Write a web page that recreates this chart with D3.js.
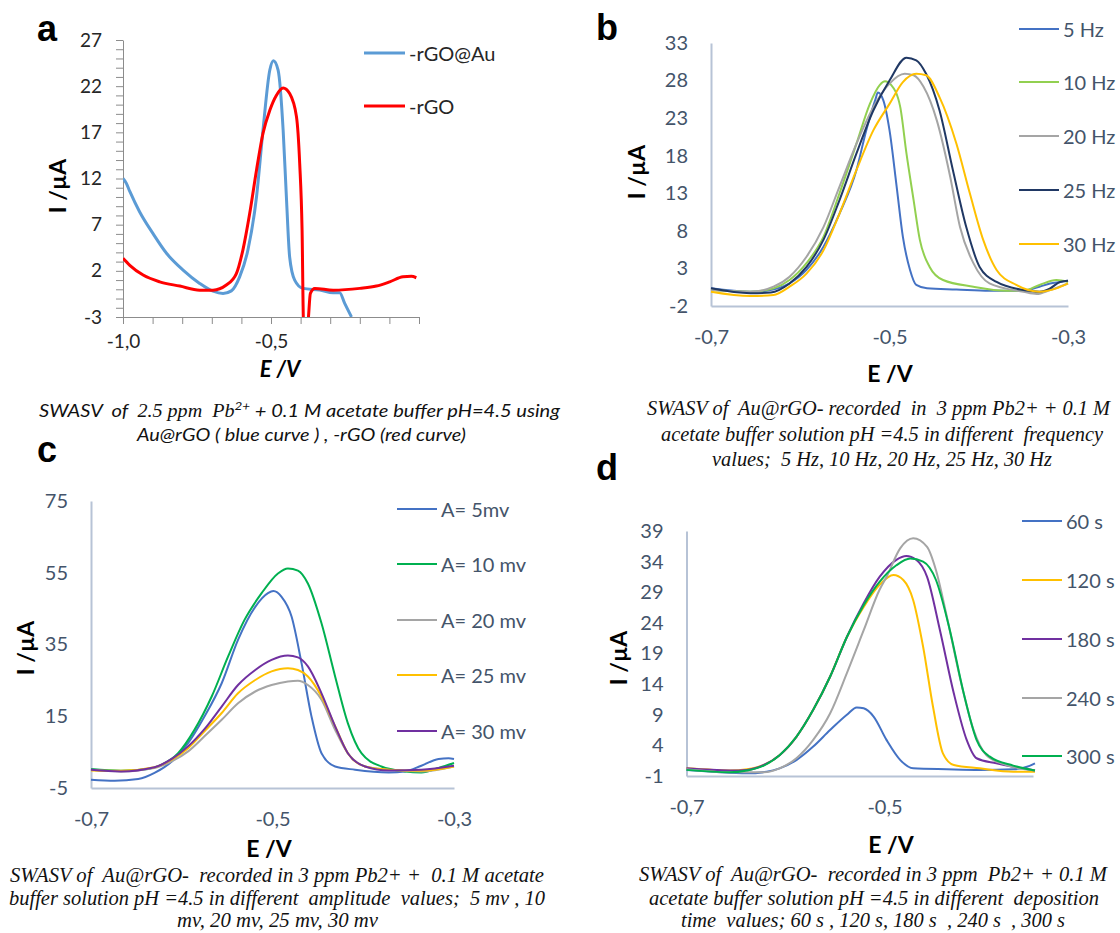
<!DOCTYPE html>
<html>
<head>
<meta charset="utf-8">
<script src="https://cdn.jsdelivr.net/npm/d3@7"></script>
<style>
  body { margin: 0; background: #fff; }
  svg { display: block; }
  .cap { white-space: pre; }
</style>
</head>
<body>
<svg id="fig" width="1120" height="933"></svg>
<script>
// ---------- data (E in V, I in µA) ----------
// panel a
var aNames = ["-rGO@Au", "-rGO"]
var aXLabels = [-1.0, -0.5]
var aYTicks = [27, 22, 17, 12, 7, 2, -3]
var aBlue = [[-1.0,12.0],[-0.989,11.5],[-0.977,10.6],[-0.944,8.4],[-0.899,6.05],[-0.853,3.9],[-0.797,2.08],[-0.741,0.64],[-0.696,-0.2],[-0.662,-0.45],[-0.634,-0.17],[-0.606,1.35],[-0.578,4.25],[-0.549,10.0],[-0.527,17.25],[-0.504,23.75],[-0.492,24.76],[-0.476,23.75],[-0.459,17.25],[-0.448,10.0],[-0.437,3.5],[-0.42,1.0],[-0.392,0.1],[-0.335,-0.09],[-0.29,-0.38],[-0.268,-0.38],[-0.251,-1.53],[-0.228,-3.0]]
var aRed = [[-1.0,3.35],[-0.977,2.6],[-0.932,1.54],[-0.876,0.81],[-0.808,0.35],[-0.741,-0.09],[-0.696,-0.09],[-0.651,0.46],[-0.617,1.7],[-0.595,4.25],[-0.572,8.2],[-0.549,12.9],[-0.527,16.9],[-0.504,19.4],[-0.482,21.0],[-0.459,21.8],[-0.437,21.2],[-0.414,18.7],[-0.403,13.6],[-0.395,6.4],[-0.39,-3.6],[-0.376,-3.6],[-0.367,-0.45],[-0.352,0.1],[-0.29,-0.09],[-0.2,0.1],[-0.144,0.35],[-0.099,0.81],[-0.054,1.35],[-0.026,1.4],[-0.009,1.25]]

// panel b
var bNames = ["5 Hz", "10 Hz", "20 Hz", "25 Hz", "30 Hz"]
var bXTicks = [-0.7, -0.5, -0.3]
var bYTicks = [-2, 3, 8, 13, 18, 23, 28, 33]
var b5 = [[-0.7,0.35],[-0.656,-0.1],[-0.638,0.04],[-0.612,1.0],[-0.593,2.8],[-0.574,5.9],[-0.556,10.3],[-0.537,16.1],[-0.526,21.4],[-0.516,25.4],[-0.513,26.4],[-0.507,25.4],[-0.5,21.4],[-0.492,13.9],[-0.485,7.2],[-0.477,2.8],[-0.47,0.8],[-0.458,0.35],[-0.425,0.2],[-0.388,0.04],[-0.35,0.04],[-0.332,0.57],[-0.32,1.0],[-0.309,1.2],[-0.3,1.37]]
var b10 = [[-0.7,0.13],[-0.656,-0.1],[-0.63,0.35],[-0.612,1.46],[-0.593,3.7],[-0.574,7.2],[-0.556,13],[-0.537,19.6],[-0.522,24.9],[-0.511,27.4],[-0.505,27.9],[-0.498,27.4],[-0.488,24.5],[-0.481,18.3],[-0.473,12.1],[-0.466,6.8],[-0.455,3.2],[-0.44,1.46],[-0.406,0.57],[-0.369,0.04],[-0.35,0.04],[-0.332,0.8],[-0.313,1.46],[-0.3,1.2]]
var b20 = [[-0.7,0.13],[-0.656,-0.1],[-0.63,0.57],[-0.612,1.9],[-0.593,4.55],[-0.574,8.5],[-0.556,13.9],[-0.537,19.6],[-0.518,24.5],[-0.5,27.6],[-0.483,28.9],[-0.473,28.7],[-0.462,27.2],[-0.447,22.7],[-0.432,15.2],[-0.421,8.5],[-0.406,3.7],[-0.388,1.0],[-0.35,-0.1],[-0.335,-0.4],[-0.32,0.13],[-0.3,1.0]]
var b25 = [[-0.7,0.35],[-0.656,-0.3],[-0.633,-0.2],[-0.612,1.0],[-0.593,3.2],[-0.574,6.8],[-0.556,12.1],[-0.537,18.3],[-0.518,24.05],[-0.5,28],[-0.481,31.05],[-0.47,30.7],[-0.459,28.9],[-0.444,24.05],[-0.429,16.1],[-0.414,8.5],[-0.399,3.2],[-0.38,1.2],[-0.35,0.13],[-0.332,-0.1],[-0.32,0.35],[-0.309,1.2],[-0.3,1.37]]
var b30 = [[-0.7,-0.1],[-0.656,-0.67],[-0.63,-0.54],[-0.612,0.57],[-0.593,2.3],[-0.574,5.4],[-0.556,10.3],[-0.537,16.1],[-0.518,21.4],[-0.5,24.9],[-0.485,27.8],[-0.47,28.9],[-0.459,28.7],[-0.444,25.8],[-0.425,19.6],[-0.41,13],[-0.395,6.8],[-0.38,2.8],[-0.358,0.8],[-0.332,-0.1],[-0.313,0.35],[-0.3,1.0]]

// panel c
var cNames = ["A= 5mv", "A= 10 mv", "A= 20 mv", "A= 25 mv", "A= 30 mv"]
var cXTicks = [-0.7, -0.5, -0.3]
var cYTicks = [-5, 15, 35, 55, 75]
var c5 = [[-0.7,-2.7],[-0.674,-3.0],[-0.648,-2.5],[-0.63,-0.8],[-0.611,2.4],[-0.593,7.5],[-0.575,14.9],[-0.556,24.2],[-0.538,36.3],[-0.519,45.5],[-0.505,49.3],[-0.499,49.9],[-0.49,48.3],[-0.479,42.8],[-0.468,29.8],[-0.457,14.9],[-0.446,4.7],[-0.431,1.0],[-0.409,0.1],[-0.372,-0.65],[-0.354,-0.37],[-0.336,1.2],[-0.317,3.1],[-0.306,3.3],[-0.3,3.1]]
var c10 = [[-0.7,0.28],[-0.667,-0.2],[-0.637,0.28],[-0.622,1.5],[-0.604,4.7],[-0.586,11.2],[-0.567,20.5],[-0.549,31.6],[-0.531,41.8],[-0.512,49.3],[-0.494,54.8],[-0.483,56.2],[-0.472,55.6],[-0.461,52],[-0.446,40.9],[-0.431,26.1],[-0.417,13.1],[-0.402,4.7],[-0.38,1.0],[-0.354,-0.37],[-0.336,-0.65],[-0.317,0.56],[-0.3,1.95]]
var c20 = [[-0.7,0.1],[-0.667,-0.37],[-0.63,0.56],[-0.611,2.4],[-0.593,5.2],[-0.575,9.4],[-0.556,14.0],[-0.538,18.6],[-0.519,21.9],[-0.501,23.7],[-0.483,24.7],[-0.472,24.9],[-0.461,23.7],[-0.446,19.6],[-0.431,11.2],[-0.417,4.7],[-0.398,1.0],[-0.372,0.1],[-0.336,-0.37],[-0.3,1.0]]
var c25 = [[-0.7,-0.1],[-0.667,-0.2],[-0.63,0.8],[-0.611,2.9],[-0.593,6.1],[-0.575,10.8],[-0.556,15.9],[-0.538,21.4],[-0.519,25.1],[-0.501,27.5],[-0.483,28.4],[-0.472,27.9],[-0.461,26.1],[-0.446,20.5],[-0.431,12.2],[-0.417,4.7],[-0.398,1.0],[-0.372,0.1],[-0.336,-0.2],[-0.3,1.0]]
var c30 = [[-0.7,0.1],[-0.667,-0.37],[-0.63,0.8],[-0.611,3.1],[-0.593,6.6],[-0.575,11.4],[-0.556,17.7],[-0.538,23.7],[-0.519,27.9],[-0.501,30.7],[-0.483,31.9],[-0.472,31.4],[-0.461,28.9],[-0.446,21.4],[-0.431,12.2],[-0.417,4.7],[-0.398,1.0],[-0.372,-0.1],[-0.336,0.1],[-0.3,1.2]]

// panel d
var dNames = ["60 s", "120 s", "180 s", "240 s", "300 s"]
var dXTicks = [-0.7, -0.5]
var dYTicks = [-1, 4, 9, 14, 19, 24, 29, 34, 39]
var d60 = [[-0.7,0.0],[-0.673,-0.3],[-0.639,-0.56],[-0.619,-0.3],[-0.606,0.25],[-0.589,1.6],[-0.572,3.8],[-0.555,6.5],[-0.538,9.0],[-0.528,10.2],[-0.521,10.05],[-0.511,8.7],[-0.498,4.9],[-0.484,1.6],[-0.471,0.25],[-0.437,0.1],[-0.404,0.0],[-0.37,0.1],[-0.356,0.5],[-0.348,1.07]]
var d120 = [[-0.7,0.25],[-0.673,0.0],[-0.656,-0.1],[-0.639,0.1],[-0.622,0.8],[-0.606,2.4],[-0.589,5.4],[-0.572,9.8],[-0.555,15.2],[-0.538,21.7],[-0.521,26.6],[-0.505,30.2],[-0.491,31.8],[-0.481,31],[-0.471,27.7],[-0.461,20.1],[-0.451,10.3],[-0.441,2.7],[-0.43,0.8],[-0.404,0.25],[-0.37,-0.3],[-0.348,-0.3]]
var d180 = [[-0.7,0.25],[-0.656,-0.1],[-0.639,0.0],[-0.622,0.8],[-0.606,2.4],[-0.589,5.4],[-0.572,9.8],[-0.555,15.2],[-0.538,21.7],[-0.521,27.2],[-0.505,31.5],[-0.488,34.3],[-0.478,34.9],[-0.468,34.3],[-0.457,31.5],[-0.444,22.8],[-0.43,12.5],[-0.417,4.9],[-0.407,1.9],[-0.387,1.07],[-0.37,0.5],[-0.348,-0.1]]
var d240 = [[-0.7,0.1],[-0.656,-0.4],[-0.622,-0.4],[-0.606,0.25],[-0.589,1.9],[-0.572,4.9],[-0.555,9.2],[-0.538,15.8],[-0.521,22.8],[-0.505,29.4],[-0.498,31.5],[-0.484,36.2],[-0.471,37.8],[-0.457,36.4],[-0.448,32.6],[-0.437,25],[-0.424,15.2],[-0.41,6.5],[-0.397,2.4],[-0.377,0.8],[-0.348,-0.1]]
var d300 = [[-0.7,0.0],[-0.656,-0.4],[-0.639,-0.1],[-0.622,0.7],[-0.606,2.4],[-0.589,5.4],[-0.572,9.8],[-0.555,15.2],[-0.538,21.7],[-0.521,26.9],[-0.505,30.7],[-0.488,33.4],[-0.474,34.5],[-0.461,34.0],[-0.448,31],[-0.434,22.8],[-0.42,12.5],[-0.407,4.9],[-0.394,2.2],[-0.37,0.7],[-0.348,-0.1]]

// captions
var capA = ["Au@rGO ( blue curve ) , -rGO (red curve)"]
var capB = ["SWASV of  Au@rGO- recorded  in  3 ppm Pb2+ + 0.1 M",
            "acetate buffer solution pH =4.5 in different  frequency",
            "values;  5 Hz, 10 Hz, 20 Hz, 25 Hz, 30 Hz"]
var capC = ["SWASV of  Au@rGO-  recorded in 3 ppm Pb2+ +  0.1 M acetate",
            "buffer solution pH =4.5 in different  amplitude  values;  5 mv , 10",
            "mv, 20 mv, 25 mv, 30 mv"]
var capD = ["SWASV of  Au@rGO-  recorded in 3 ppm  Pb2+ + 0.1 M",
            "acetate buffer solution pH =4.5 in different  deposition",
            "time  values; 60 s , 120 s, 180 s  , 240 s  , 300 s"]

// ---------- drawing ----------
var svg = d3.select("#fig")
var font = "Lato, 'Open Sans', sans-serif"
var slate = "#44546a"
var axisBlue = "#b7c3d6"

function comma(d) {
  return d.toFixed(1).replace(".", ",")
}

var line = d3.line().curve(d3.curveMonotoneX)

function drawSeries(x, y, data, color, w, clip) {
  line.x(d => x(d[0])).y(d => y(d[1]))
  var p = svg.append("path")
    .attr("d", line(data))
    .attr("fill", "none")
    .attr("stroke", color)
    .attr("stroke-width", w)
    .attr("stroke-linejoin", "round")
  if (clip) p.attr("clip-path", `url(#${clip})`)
}

function axisTitles(xPos, yPos) {
  svg.append("text")
    .attr("transform", `translate(${yPos[0]},${yPos[1]}) rotate(-90)`)
    .attr("text-anchor", "middle")
    .attr("dominant-baseline", "central")
    .style("font-family", font).style("font-weight", "bold").style("font-size", "23px")
    .text("I /µA")
  return svg.append("text")
    .attr("x", xPos[0]).attr("y", xPos[1])
    .attr("text-anchor", "middle")
    .style("font-family", font).style("font-weight", "bold").style("font-size", "23px")
    .text("E /V")
}

function letter(t, x, y) {
  svg.append("text").attr("x", x).attr("y", y)
    .style("font-family", "'Liberation Sans', Arial, sans-serif")
    .style("font-weight", "bold").style("font-size", "36px")
    .text(t)
}

function caption(lines, xs, ys, size) {
  lines.forEach((t, i) => {
    svg.append("text")
      .attr("class", "cap")
      .attr("x", xs[i][0]).attr("y", ys[i])
      .attr("textLength", xs[i][1] - xs[i][0])
      .attr("lengthAdjust", "spacingAndGlyphs")
      .style("font-family", "'Liberation Serif', 'Times New Roman', serif")
      .style("font-style", "italic").style("font-size", size + "px")
      .style("fill", "#111")
      .text(t)
  })
}

function legend(names, colors, x1, x2, tx, ys, color, size, w) {
  names.forEach((n, i) => {
    svg.append("line")
      .attr("x1", x1).attr("x2", x2).attr("y1", ys[i]).attr("y2", ys[i])
      .attr("stroke", colors[i]).attr("stroke-width", w)
    svg.append("text")
      .attr("x", tx).attr("y", ys[i])
      .attr("dominant-baseline", "central")
      .style("font-family", font).style("font-size", size + "px")
      .style("fill", color)
      .text(n)
  })
}

// ===== panel a =====
var xA = d3.scaleLinear().domain([-1, 0]).range([123, 419])
var yA = d3.scaleLinear().domain([-3, 27]).range([317, 40])

svg.append("clipPath").attr("id", "clipA")
  .append("rect").attr("x", 123).attr("y", 30).attr("width", 300).attr("height", 287)

var gxA = svg.append("g")
  .attr("transform", `translate(0,${yA(-3)})`)
  .call(d3.axisBottom(xA)
    .tickValues(d3.range(-10, 1).map(i => i / 10))
    .tickSize(7).tickSizeOuter(0).tickPadding(11)
    .tickFormat(d => aXLabels.some(v => Math.abs(v - d) < 1e-9) ? comma(d) : ""))
var gyA = svg.append("g")
  .attr("transform", `translate(${xA(-1)},0)`)
  .call(d3.axisLeft(yA)
    .tickValues(d3.range(-3, 28))
    .tickSize(7).tickSizeOuter(0).tickPadding(14)
    .tickFormat(d => aYTicks.includes(d) ? String(d) : ""))
;[gxA, gyA].forEach(g => {
  g.selectAll("path,line").attr("stroke", "#8c8c8c")
  g.selectAll("text").style("font-family", font).style("font-size", "19px").style("fill", "#262626")
})

drawSeries(xA, yA, aBlue, "#5b9bd5", 3, "clipA")
drawSeries(xA, yA, aRed, "#ff0000", 3, "clipA")
legend(aNames, ["#5b9bd5", "#ff0000"], 364, 405, 409, [53, 106], "#262626", 20, 3)
axisTitles([280, 377], [57, 186]).style("font-style", "italic").style("font-size", "22px")
letter("a", 37, 41)

// caption a with Pb superscript
var capA1 = svg.append("text")
  .attr("class", "cap")
  .attr("x", 39).attr("y", 417)
  .attr("textLength", 521).attr("lengthAdjust", "spacingAndGlyphs")
  .style("font-family", font).style("font-style", "italic").style("font-size", "18px")
  .style("fill", "#111")
capA1.append("tspan").text("SWASV  of  ")
capA1.append("tspan").style("font-family", "'Liberation Serif', serif").text("2.5 ppm  Pb")
capA1.append("tspan").attr("dy", -7).style("font-size", "12px").text("2+")
capA1.append("tspan").attr("dy", 7).text(" + 0.1 M acetate buffer pH=4.5 using")
svg.append("text")
  .attr("class", "cap")
  .attr("x", 137).attr("y", 441)
  .attr("textLength", 329).attr("lengthAdjust", "spacingAndGlyphs")
  .style("font-family", font).style("font-style", "italic").style("font-size", "18px")
  .style("fill", "#111")
  .text(capA[0])

// ===== panels b, c, d =====
function swPanel(p) {
  var x = d3.scaleLinear().domain(p.xDomain).range(p.xRange)
  var y = d3.scaleLinear().domain(p.yDomain).range(p.yRange)
  var gx = svg.append("g")
    .attr("transform", `translate(0,${p.yRange[0]})`)
    .call(d3.axisBottom(x).tickValues(p.xTicks).tickSize(0).tickSizeOuter(0).tickPadding(24).tickFormat(comma))
  var gy = svg.append("g")
    .attr("transform", `translate(${p.xRange[0]},0)`)
    .call(d3.axisLeft(y).tickValues(p.yTicks).tickSize(0).tickSizeOuter(0).tickPadding(23).tickFormat(d => String(d)))
  ;[gx, gy].forEach(g => {
    g.select(".domain").attr("stroke", axisBlue).attr("stroke-width", 2)
    g.selectAll("text").style("font-family", font).style("font-size", "20px").style("fill", slate)
  })
  p.series.forEach((s, i) => drawSeries(x, y, s, p.colors[i], 2))
  legend(p.names, p.colors, p.leg[0], p.leg[1], p.leg[2], p.legY, slate, 20, 2)
  axisTitles(p.xTitle, p.yTitle)
}

swPanel({
  xDomain: [-0.7, -0.3], xRange: [711, 1068],
  yDomain: [-2, 33], yRange: [306, 43],
  xTicks: bXTicks, yTicks: bYTicks,
  series: [b5, b10, b20, b25, b30],
  names: bNames,
  colors: ["#4472c4", "#92d050", "#a5a5a5", "#203864", "#ffc000"],
  leg: [1019, 1059, 1063], legY: [29, 82, 136, 190, 244],
  xTitle: [890, 382], yTitle: [636, 172]
})
letter("b", 596, 40)
caption(capB, [[647, 1110], [661, 1103], [712, 1052]], [415, 441, 466], 20)

swPanel({
  xDomain: [-0.7, -0.3], xRange: [91, 454],
  yDomain: [-5, 75], yRange: [788, 501],
  xTicks: cXTicks, yTicks: cYTicks,
  series: [c5, c10, c20, c25, c30],
  names: cNames,
  colors: ["#4472c4", "#00b050", "#a5a5a5", "#ffc000", "#7030a0"],
  leg: [397, 437, 441], legY: [509, 564, 620, 675, 731],
  xTitle: [269, 857], yTitle: [25, 648]
})
letter("c", 37, 462)
caption(capC, [[10, 544], [9, 545], [177, 378]], [882, 905, 927], 20)

swPanel({
  xDomain: [-0.7, -0.35], xRange: [686.5, 1033],
  yDomain: [-1, 39], yRange: [776, 531],
  xTicks: dXTicks, yTicks: dYTicks,
  series: [d60, d120, d180, d240, d300],
  names: dNames,
  colors: ["#4472c4", "#ffc000", "#7030a0", "#a5a5a5", "#00b050"],
  leg: [1022, 1062, 1066], legY: [521, 580, 639, 698, 756],
  xTitle: [891, 853], yTitle: [618, 658]
})
letter("d", 596, 480)
caption(capD, [[639, 1107], [649, 1099], [681, 1065]], [881, 905, 927], 20)
</script>
</body>
</html>
